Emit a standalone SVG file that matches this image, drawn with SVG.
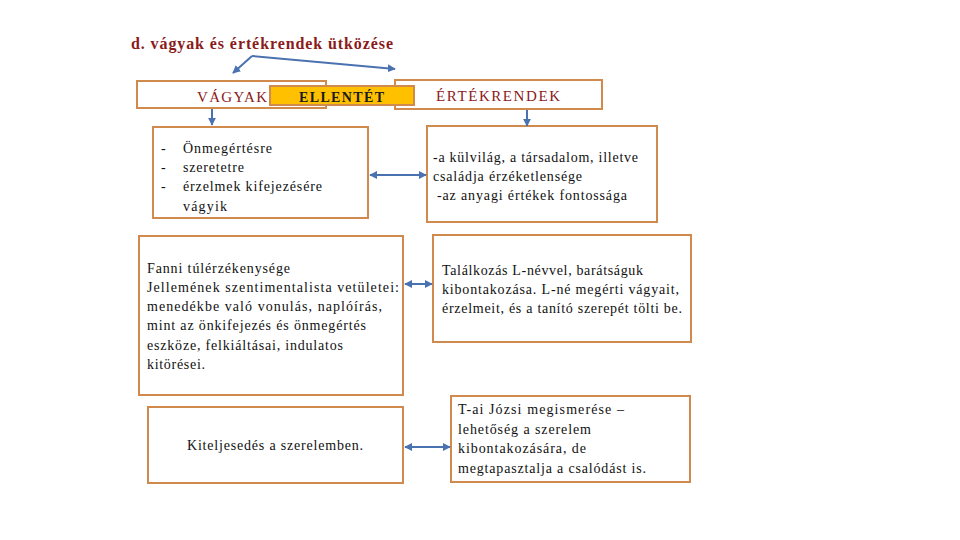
<svg xmlns="http://www.w3.org/2000/svg" width="960" height="540" viewBox="0 0 960 540" font-family="Liberation Serif, DejaVu Serif, serif">
<defs>
<style>
.box{fill:#fff;stroke:#D08A4E;stroke-width:2}
.t{font-size:14px;fill:#111}
.h{font-size:15px;fill:#8B1A1A}
.title{font-size:16px;font-weight:bold;fill:#8B1A1A}
.c{stroke:#4A72B0;stroke-width:2;fill:none}
</style>
<marker id="ah" viewBox="0 0 10 10" refX="9" refY="5" markerWidth="4" markerHeight="4" orient="auto-start-reverse">
<path d="M0,0 L10,5 L0,10 z" fill="#4A72B0"/>
</marker>
</defs>
<rect width="960" height="540" fill="#fff"/>
<text class="title" x="131" y="49" textLength="262">d. vágyak és értékrendek ütközése</text>
<g id="vagyak"><rect class="box" x="137" y="81" width="189" height="27"/><text class="h" x="197" y="102" textLength="70">VÁGYAK</text></g>
<g id="ertekrendek"><rect class="box" x="395" y="80" width="207" height="29"/><text class="h" x="436" y="101" textLength="124">ÉRTÉKRENDEK</text></g>
<g id="ellentet"><rect x="270" y="86" width="144" height="19" fill="#FFC000" stroke="#D08A4E" stroke-width="2"/><text x="299" y="102" textLength="85" style="font-size:14px;fill:#1a1a1a;font-weight:bold">ELLENTÉT</text></g>
<g id="vagyak-list"><rect class="box" x="153" y="127" width="215" height="91"/>
<text class="t" x="161" y="153">-</text><text class="t" x="161" y="172">-</text><text class="t" x="161" y="191">-</text>
<text class="t" x="183" y="153" textLength="89">Önmegértésre</text><text class="t" x="183" y="172" textLength="61">szeretetre</text><text class="t" x="183" y="191" textLength="139">érzelmek kifejezésére</text><text class="t" x="183" y="211" textLength="44">vágyik</text></g>
<g id="ertek-list"><rect class="box" x="427" y="126" width="230" height="96"/>
<text class="t" x="433" y="162" textLength="205">-a külvilág, a társadalom, illetve</text>
<text class="t" x="433" y="181" textLength="149">családja érzéketlensége</text>
<text class="t" x="437" y="200" textLength="190">-az anyagi értékek fontossága</text></g>
<g id="fanni"><rect class="box" x="139" y="236" width="264" height="159"/>
<text class="t" x="147" y="273" textLength="143">Fanni túlérzékenysége</text>
<text class="t" x="147" y="292" textLength="252">Jellemének szentimentalista vetületei:</text>
<text class="t" x="147" y="311" textLength="235">menedékbe való vonulás, naplóírás,</text>
<text class="t" x="147" y="330" textLength="219">mint az önkifejezés és önmegértés</text>
<text class="t" x="147" y="350" textLength="196">eszköze, felkiáltásai, indulatos</text>
<text class="t" x="147" y="369" textLength="58">kitörései.</text></g>
<g id="talalkozas"><rect class="box" x="433" y="235" width="258" height="107"/>
<text class="t" x="442" y="275" textLength="201">Találkozás L-névvel, barátságuk</text>
<text class="t" x="442" y="294" textLength="237">kibontakozása. L-né megérti vágyait,</text>
<text class="t" x="442" y="313" textLength="240">érzelmeit, és a tanító szerepét tölti be.</text></g>
<g id="kiteljesedes"><rect class="box" x="148" y="407" width="255" height="76"/>
<text class="t" x="187" y="450" textLength="176">Kiteljesedés a szerelemben.</text></g>
<g id="jozsi"><rect class="box" x="451" y="396" width="239" height="86"/>
<text class="t" x="458" y="414" textLength="166">T-ai Józsi megismerése –</text>
<text class="t" x="458" y="434" textLength="133">lehetőség a szerelem</text>
<text class="t" x="458" y="453" textLength="128">kibontakozására, de</text>
<text class="t" x="458" y="473" textLength="188">megtapasztalja a csalódást is.</text></g>
<g id="connectors">
<path class="c" d="M252,56 L233,73" marker-end="url(#ah)"/>
<path class="c" d="M252,56 L395,69" marker-end="url(#ah)"/>
<path class="c" d="M212,109 L212,125" marker-end="url(#ah)"/>
<path class="c" d="M527,110 L527,126" marker-end="url(#ah)"/>
<path class="c" d="M370,175 L426,175" marker-start="url(#ah)" marker-end="url(#ah)"/>
<path class="c" d="M405,284 L432,284" marker-start="url(#ah)" marker-end="url(#ah)"/>
<path class="c" d="M405,447 L450,447" marker-start="url(#ah)" marker-end="url(#ah)"/>
</g>
</svg>
